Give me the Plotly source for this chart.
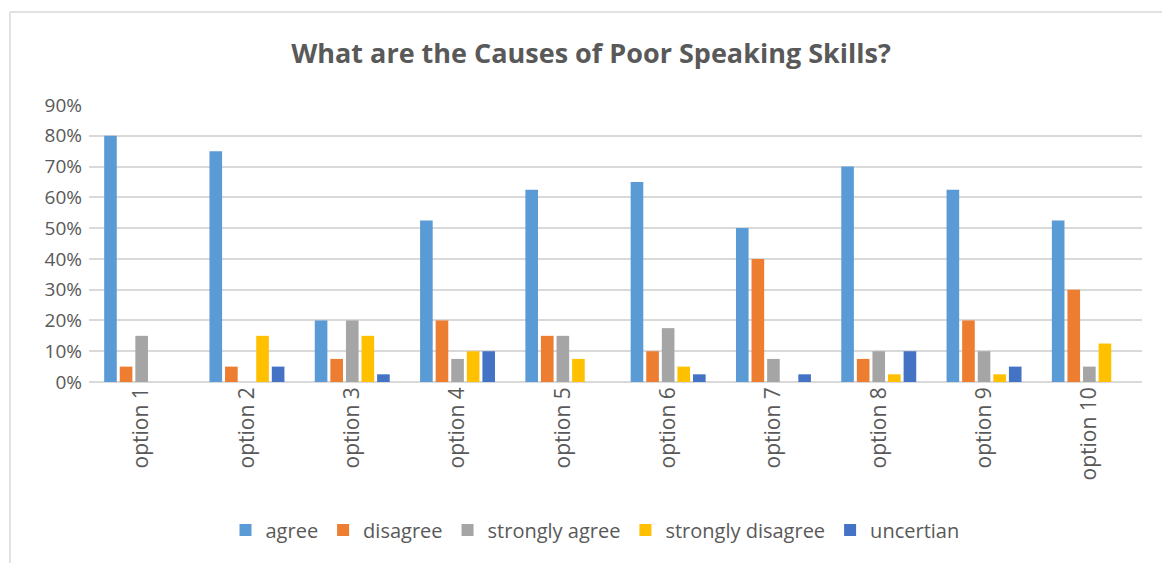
import plotly.graph_objects as go

categories = ["option 1", "option 2", "option 3", "option 4", "option 5",
              "option 6", "option 7", "option 8", "option 9", "option 10"]
agree = [0.80, 0.75, 0.20, 0.525, 0.625, 0.65, 0.50, 0.70, 0.625, 0.525]
disagree = [0.05, 0.05, 0.075, 0.20, 0.15, 0.10, 0.40, 0.075, 0.20, 0.30]
strongly_agree = [0.15, 0.0, 0.20, 0.075, 0.15, 0.175, 0.075, 0.10, 0.10, 0.05]
strongly_disagree = [0.0, 0.15, 0.15, 0.10, 0.075, 0.05, 0.0, 0.025, 0.025, 0.125]
uncertian = [0.0, 0.05, 0.025, 0.10, 0.0, 0.025, 0.025, 0.10, 0.05, 0.0]

series = [
    ("agree", agree, "#5B9BD5"),
    ("disagree", disagree, "#ED7D31"),
    ("strongly agree", strongly_agree, "#A5A5A5"),
    ("strongly disagree", strongly_disagree, "#FFC000"),
    ("uncertian", uncertian, "#4472C4"),
]

fig = go.Figure()
for name, vals, color in series:
    fig.add_trace(go.Bar(x=categories, y=vals, name=name,
                         marker=dict(color=color, line=dict(width=0))))

W, H = 1162, 563
L, R, T, B = 89, 20, 105, 181
pw, ph = W - L - R, H - T - B

def px_x(x):
    return (x - L) / pw

def px_y(y):
    return (H - B - y) / ph

fig.update_layout(
    width=W, height=H,
    margin=dict(l=L, r=R, t=T, b=B),
    paper_bgcolor="white", plot_bgcolor="white",
    barmode="group", bargap=0.26, bargroupgap=0.19,
    font=dict(family="Open Sans", color="#595959"),
    title=dict(text="<b>What are the Causes of Poor Speaking Skills?</b>",
               x=591 / W, xanchor="center", y=1 - 54 / H, yanchor="middle",
               font=dict(family="Open Sans", size=27, color="#595959")),
    xaxis=dict(tickangle=-90, tickfont=dict(family="Open Sans", size=21, color="#595959"),
               showgrid=False, showline=False, ticks="", ticklen=0),
    yaxis=dict(range=[0, 0.9], dtick=0.1, tickformat=".0%",
               tickfont=dict(family="Open Sans", size=19, color="#595959"),
               gridcolor="#D9D9D9", gridwidth=1.5, zeroline=True,
               zerolinecolor="#D9D9D9", zerolinewidth=1.5, ticks="",
               ticklabelstandoff=6),
    legend=dict(orientation="h", x=px_x(595), xanchor="center",
                y=px_y(530), yanchor="middle",
                font=dict(family="Open Sans", size=20, color="#595959"),
                itemwidth=30, traceorder="normal"),
    shapes=[
        dict(type="line", xref="paper", yref="paper",
             x0=px_x(10), x1=px_x(1162), y0=px_y(12), y1=px_y(12),
             line=dict(color="#D9D9D9", width=1.5)),
        dict(type="line", xref="paper", yref="paper",
             x0=px_x(10), x1=px_x(10), y0=px_y(12), y1=px_y(563),
             line=dict(color="#D9D9D9", width=1.5)),
    ],
)

fig.write_html("out.html")
